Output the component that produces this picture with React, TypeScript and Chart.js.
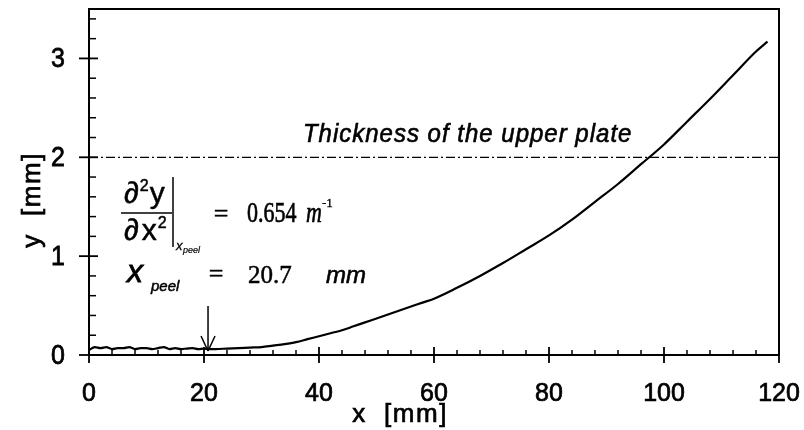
import React, { useEffect, useRef } from "react";
import { Chart, registerables } from "chart.js";

Chart.register(...registerables);

// ---- data ----
const flatX = [0, 1, 2, 3, 4, 5, 6, 7, 8, 9, 10, 11, 12, 13, 14, 15, 16, 17, 18, 19, 20, 21, 22];
const flatY = [0.05, 0.08, 0.07, 0.08, 0.06, 0.07, 0.07, 0.08, 0.06, 0.07, 0.07, 0.06, 0.07, 0.08, 0.06, 0.07, 0.06, 0.065, 0.07, 0.06, 0.065, 0.06, 0.06];
const riseX = [24, 26, 28, 30, 32, 34, 36, 38, 40, 42, 44, 46, 48, 50, 52, 54, 56, 58, 60, 64, 68, 72, 76, 80, 84, 88, 92, 96, 100, 104, 108, 112, 116, 118];
const riseY = [0.065, 0.07, 0.075, 0.08, 0.095, 0.11, 0.13, 0.16, 0.19, 0.22, 0.25, 0.29, 0.33, 0.37, 0.41, 0.45, 0.49, 0.53, 0.57, 0.68, 0.8, 0.93, 1.07, 1.21, 1.37, 1.55, 1.73, 1.93, 2.13, 2.36, 2.59, 2.83, 3.07, 3.17];
const xTickValues = [0, 20, 40, 60, 80, 100, 120];
const yTickValues = [0, 1, 2, 3];
const plateThickness = 2;
const xPeel = 20.7;
const curvatureText = "0.654";
const xPeelText = "20.7";

function txt(ctx: CanvasRenderingContext2D, s: string, x: number, y: number, font: string, align: CanvasTextAlign = "left", sy = 1, spacing = 0, weight = 0.5) {
  ctx.save();
  ctx.font = font;
  ctx.textAlign = align;
  ctx.textBaseline = "alphabetic";
  (ctx as any).letterSpacing = spacing + "px";
  ctx.translate(x, y);
  ctx.scale(1, sy);
  ctx.fillText(s, 0, 0);
  if (weight > 0) {
    ctx.lineWidth = weight;
    ctx.strokeText(s, 0, 0);
  }
  ctx.restore();
}

function line(ctx: CanvasRenderingContext2D, x1: number, y1: number, x2: number, y2: number, w = 1.5) {
  ctx.save();
  ctx.lineWidth = w;
  ctx.beginPath();
  ctx.moveTo(x1, y1);
  ctx.lineTo(x2, y2);
  ctx.stroke();
  ctx.restore();
}

const decorPlugin = {
  id: "decor",
  afterDraw(chart: any) {
    const ctx: CanvasRenderingContext2D = chart.ctx;
    const { left, right, top, bottom } = chart.chartArea;
    const xs = chart.scales.x;
    const ys = chart.scales.y;
    ctx.save();
    ctx.strokeStyle = "#000";
    ctx.fillStyle = "#000";
    // frame
    ctx.lineWidth = 2;
    ctx.strokeRect(left, top, right - left, bottom - top);
    // x ticks
    for (let v = 0; v <= 120; v += 4) {
      const px = xs.getPixelForValue(v);
      if (v % 20 === 0) line(ctx, px, bottom - 8, px, bottom + 8, 1.8);
      else line(ctx, px, bottom, px, bottom - 5, 1.5);
    }
    // y ticks
    for (let i = 0; i <= 17; i++) {
      const py = ys.getPixelForValue(i * 0.2);
      if (i % 5 === 0) line(ctx, left - 10, py, left + 9, py, 1.8);
      else line(ctx, left, py, left + 7, py, 1.5);
    }
    // tick labels
    const tickFont = '25px "Liberation Sans", Arial, sans-serif';
    xTickValues.forEach((v) => txt(ctx, String(v), xs.getPixelForValue(v), 401, tickFont, "center", 1.05, 0, 0.7));
    yTickValues.forEach((v) => txt(ctx, String(v), 65, ys.getPixelForValue(v) + 9, tickFont, "right", 1.1, 0, 0.7));
    // axis titles
    txt(ctx, "x  [mm]", 400, 422, '26px "Liberation Sans", Arial, sans-serif', "center", 1, 1.5, 0.7);
    ctx.save();
    ctx.translate(40, 200);
    ctx.rotate(-Math.PI / 2);
    txt(ctx, "y  [mm]", 0, 0, '26px "Liberation Sans", Arial, sans-serif', "center", 1, 1.5, 0.7);
    ctx.restore();
    // plate label
    txt(ctx, "Thickness of the upper plate", xs.getPixelForValue(37.2), ys.getPixelForValue(plateThickness) - 15, 'italic 24px "Liberation Sans", Arial, sans-serif', "left", 1.05, 1, 0.6);

    // formula
    const sans = (s: number) => `${s}px "Liberation Sans", "DejaVu Sans", Arial, sans-serif`;
    const isans = (s: number) => `italic ${s}px "Liberation Sans", "DejaVu Sans", Arial, sans-serif`;
    const serif = (s: number) => `${s}px "Liberation Serif", "Times New Roman", serif`;
    const iserif = (s: number) => `italic ${s}px "Liberation Serif", "Times New Roman", serif`;
    const measure = (s: string, f: string) => { ctx.font = f; return ctx.measureText(s).width; };
    let cx = 124;
    txt(ctx, "\u2202", cx, 203, sans(30));
    cx += measure("\u2202", sans(30)) + 1;
    txt(ctx, "2", cx, 191, sans(16));
    cx += measure("2", sans(16)) + 1;
    txt(ctx, "y", cx, 203, sans(30));
    line(ctx, 121, 213, 172, 213, 1.5);
    cx = 124;
    txt(ctx, "\u2202", cx, 240, sans(30));
    cx += measure("\u2202", sans(30)) + 3;
    txt(ctx, "x", cx, 240, sans(30));
    cx += measure("x", sans(30)) + 1;
    txt(ctx, "2", cx, 228, sans(16));
    line(ctx, 173, 177, 173, 247, 1.5);
    txt(ctx, "x", 176, 250, isans(13), "left", 1, 0, 0.3);
    txt(ctx, "peel", 183, 253, isans(9), "left", 1, 0, 0.2);
    txt(ctx, "=", 221, 222, serif(26), "center");
    txt(ctx, curvatureText, 247, 222, serif(22), "left", 1.35);
    txt(ctx, "m", 306, 222, iserif(22), "left", 1.3);
    txt(ctx, "-1", 322, 207, serif(13), "left", 1, 0, 0.3);

    // x_peel line
    txt(ctx, "x", 127, 282, isans(32), "left", 1, 0, 0.8);
    txt(ctx, "peel", 151, 291, isans(15), "left", 1, 0, 0.5);
    txt(ctx, "=", 216, 282, serif(26), "center");
    txt(ctx, xPeelText, 248, 283, serif(25));
    txt(ctx, "mm", 326, 283, isans(24), "left", 1, 0, 0.6);

    // arrow at x_peel
    const ax = xs.getPixelForValue(xPeel);
    const tipY = ys.getPixelForValue(0.04);
    line(ctx, ax, 306, ax, tipY, 1.5);
    line(ctx, ax - 7, tipY - 15, ax, tipY, 1.5);
    line(ctx, ax + 7, tipY - 15, ax, tipY, 1.5);
    ctx.restore();
  },
};

export default function App() {
  const ref = useRef<HTMLCanvasElement | null>(null);
  useEffect(() => {
    document.body.style.margin = "0";
    const canvas = ref.current;
    if (!canvas) return;
    const profile = [
      ...flatX.map((x, i) => ({ x, y: flatY[i] })),
      ...riseX.map((x, i) => ({ x, y: riseY[i] })),
    ];
    const plate = [
      { x: xTickValues[0], y: plateThickness },
      { x: xTickValues[xTickValues.length - 1], y: plateThickness },
    ];
    const chart = new Chart(canvas, {
      type: "line",
      data: {
        datasets: [
          { data: profile, borderColor: "#000", borderWidth: 2.2, pointRadius: 0, cubicInterpolationMode: "monotone", fill: false },
          { data: plate, borderColor: "#000", borderWidth: 1.3, borderDash: [9, 3, 2, 3], pointRadius: 0, fill: false },
        ],
      },
      options: {
        animation: false,
        responsive: false,
        devicePixelRatio: 1,
        layout: { padding: { top: 9, right: 25, left: 0, bottom: 0 } },
        plugins: { legend: { display: false }, tooltip: { enabled: false } },
        scales: {
          x: {
            type: "linear",
            min: 0,
            max: 120,
            ticks: { display: false },
            grid: { display: false, drawTicks: false },
            border: { display: false },
            afterFit: (s: any) => { s.height = 75; },
          },
          y: {
            type: "linear",
            min: 0,
            max: 3.5,
            ticks: { display: false },
            grid: { display: false, drawTicks: false },
            border: { display: false },
            afterFit: (s: any) => { s.width = 89; },
          },
        },
      },
      plugins: [decorPlugin],
    } as any);
    return () => chart.destroy();
  }, []);
  return (
    <div style={{ width: 804, height: 430, background: "#fff" }}>
      <canvas ref={ref} width={804} height={430} />
    </div>
  );
}
